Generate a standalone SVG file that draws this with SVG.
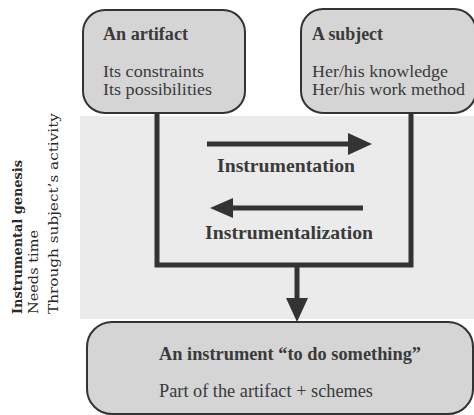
<svg xmlns="http://www.w3.org/2000/svg" width="474" height="415" viewBox="0 0 474 415">
<style>
  .box { fill: #d5d5d5; stroke: #333; stroke-width: 2; }
  .t { font-family: "Liberation Serif", "Times New Roman", serif; font-size: 18px; fill: #3a3a3a; }
  .s { font-size: 16.5px; }
  .b { font-weight: bold; }
  .lbl { font-family: "Liberation Serif", "Times New Roman", serif; font-size: 19px; font-weight: bold; fill: #3a3a3a; }
  .side { font-family: "DejaVu Serif", serif; font-size: 13px; fill: #2a2a2a; }
  .ln { stroke: #333; stroke-width: 5; fill: none; }
  .ah { fill: #333; }
</style>
<rect x="0" y="0" width="474" height="415" fill="#ffffff"/>
<rect id="band" x="80" y="116" width="394" height="203" fill="#ebebeb"/>

<g id="side-label">
  <text class="side" font-weight="bold" transform="translate(22,314) rotate(-90)" textLength="154" lengthAdjust="spacingAndGlyphs">Instrumental genesis</text>
  <text class="side" transform="translate(38,314) rotate(-90)" textLength="84" lengthAdjust="spacingAndGlyphs">Needs time</text>
  <text class="side" transform="translate(58,314) rotate(-90)" textLength="201" lengthAdjust="spacingAndGlyphs">Through subject’s activity</text>
</g>

<g id="connectors">
  <path class="ln" d="M157,113 V265 H411 V113"/>
  <line class="ln" x1="297" y1="265" x2="297" y2="300"/>
  <polygon class="ah" points="286,298 308,298 297,322"/>
  <line class="ln" x1="207" y1="144" x2="350" y2="144"/>
  <polygon class="ah" points="348,133 372,144 348,155"/>
  <line class="ln" x1="363" y1="208" x2="230" y2="208"/>
  <polygon class="ah" points="233,198 210,208 233,218"/>
</g>

<g id="labels">
  <text class="lbl" x="217" y="172" textLength="138" lengthAdjust="spacingAndGlyphs">Instrumentation</text>
  <text class="lbl" x="205" y="239" textLength="168" lengthAdjust="spacingAndGlyphs">Instrumentalization</text>
</g>

<g id="artifact">
  <rect class="box" x="83" y="10" width="162" height="103" rx="22"/>
  <text class="t b" x="103" y="40" textLength="85" lengthAdjust="spacingAndGlyphs">An artifact</text>
  <text class="t s" x="103" y="77" textLength="101" lengthAdjust="spacingAndGlyphs">Its constraints</text>
  <text class="t s" x="103" y="95" textLength="109" lengthAdjust="spacingAndGlyphs">Its possibilities</text>
</g>

<g id="subject">
  <rect class="box" x="301" y="9" width="175" height="104" rx="22"/>
  <text class="t b" x="312" y="40" textLength="71" lengthAdjust="spacingAndGlyphs">A subject</text>
  <text class="t s" x="312" y="77" textLength="136" lengthAdjust="spacingAndGlyphs">Her/his knowledge</text>
  <text class="t s" x="312" y="95" textLength="153" lengthAdjust="spacingAndGlyphs">Her/his work method</text>
</g>

<g id="instrument">
  <rect class="box" x="87" y="322" width="386" height="92" rx="25"/>
  <text class="t b" x="159" y="360" textLength="262" lengthAdjust="spacingAndGlyphs">An instrument “to do something”</text>
  <text class="t" x="159" y="397" textLength="214" lengthAdjust="spacingAndGlyphs">Part of the artifact + schemes</text>
</g>
</svg>
